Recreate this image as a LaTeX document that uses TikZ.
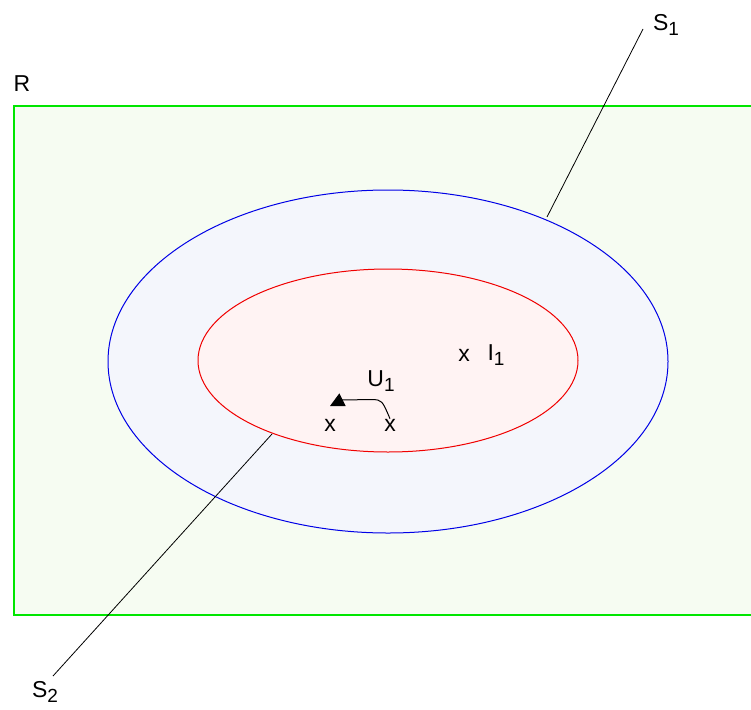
\documentclass[tikz,border=0pt]{standalone}
\usepackage{fontspec}
\setmainfont{Liberation Sans}
\usepackage{tikz}
\usetikzlibrary{arrows.meta}

\definecolor{regionline}{RGB}{0,230,0}
\definecolor{regionfill}{RGB}{246,252,242}
\definecolor{outerline}{RGB}{0,0,230}
\definecolor{outerfill}{RGB}{244,246,252}
\definecolor{innerline}{RGB}{240,0,0}
\definecolor{innerfill}{RGB}{255,243,243}

% subscript in the text font
\newcommand{\sub}[1]{\raisebox{-0.4ex}{\fontsize{19}{22}\selectfont #1}}

\begin{document}
\begin{tikzpicture}[x=1pt,y=-1pt,font=\fontsize{23}{27}\selectfont,
		lbl/.style={inner sep=0pt,anchor=center},
		cut/.style={draw=black,line width=0.8pt}]
		% ---- Canvas ----
		\useasboundingbox (0,0) rectangle (751,709);
		
		% ---- Region R ----
		\draw[regionline,fill=regionfill,line width=1.3pt] (14,106) rectangle (760,615);
		\node[lbl] (r) at (22,84) {R};
		
		% ---- Nested sets (outer blue, inner red) ----
		\def\cx{388}   % common centre x
		\draw[outerline,fill=outerfill,line width=1pt] (\cx,361.5) ellipse [x radius=280, y radius=171.5];
		\draw[innerline,fill=innerfill,line width=1pt] (\cx,360.5) ellipse [x radius=190, y radius=91.5];
		
		% ---- Cut lines S1, S2 ----
		\node[lbl] (s1) at (666,25) {S\sub{1}};
		\node[lbl] (s2) at (45,692) {S\sub{2}};
		\coordinate (s1end) at (547,217);
		\coordinate (s1top) at (643,29);
		\coordinate (s2end) at (272,434);
		\coordinate (s2bot) at (53,676);
		\draw[cut] (s1end) -- (s1top);
		\draw[cut] (s2end) -- (s2bot);
		
		% ---- Points ----
		\node[lbl] (xi) at (464,355) {x};
		\node[lbl] (i1) at (496,355) {I\sub{1}};
		\node[lbl] (u1) at (381,381) {U\sub{1}};
		\node[lbl] (xa) at (330,425) {x};
		\node[lbl] (xb) at (390,425) {x};
		
		% ---- Map U1 ----
		\draw[line width=1pt,-{Triangle[length=14pt,width=14pt]}]
			(xb.north) .. controls (382,400) .. (372,399.5) -- (342,400) -- (330,406);
		
	\end{tikzpicture}
\end{document}
